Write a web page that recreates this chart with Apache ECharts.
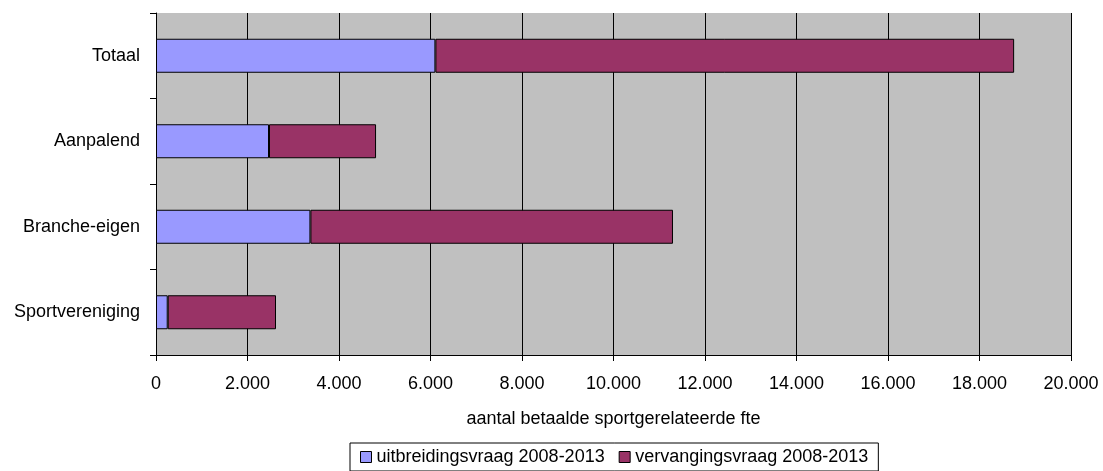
<!DOCTYPE html>
<html>
<head>
<meta charset="utf-8">
<script src="https://cdn.jsdelivr.net/npm/echarts@6/dist/echarts.min.js"></script>
<style>
html,body{margin:0;padding:0;background:#fff;}
#chart{width:1103px;height:471px;}
</style>
</head>
<body>
<div id="chart"></div>
<script>
const categories = ['Sportvereniging', 'Branche-eigen', 'Aanpalend', 'Totaal'];
const uitbreiding = [256, 3375, 2470, 6107];
const vervanging = [2367, 7925, 2340, 12650];
const seriesNames = ['uitbreidingsvraag 2008-2013', 'vervangingsvraag 2008-2013'];
const axisName = 'aantal betaalde sportgerelateerde fte';

function fmt(v) {
  return String(v).replace(/\B(?=(\d{3})+(?!\d))/g, '.');
}

const FONT = '"Liberation Sans", Arial, sans-serif';
const chart = echarts.init(document.getElementById('chart'), null, {renderer: 'canvas'});
chart.setOption({
  animation: false,
  backgroundColor: '#ffffff',
  textStyle: {fontFamily: FONT, color: '#000'},
  grid: {left: 156, right: 32, top: 13, bottom: 116, containLabel: false,
         show: true, backgroundColor: '#C0C0C0', borderWidth: 0},
  legend: {
    data: seriesNames,
    left: 350, top: 443,
    padding: [5, 10, 5, 10],
    borderColor: '#000', borderWidth: 1,
    itemWidth: 11, itemHeight: 11, itemGap: 14,
    icon: 'rect',
    itemStyle: {borderColor: '#000', borderWidth: 1},
    textStyle: {fontFamily: FONT, fontSize: 18, color: '#000'}
  },
  xAxis: {
    type: 'value', min: 0, max: 20000, interval: 2000,
    name: axisName, nameLocation: 'middle', nameGap: 55,
    nameTextStyle: {fontFamily: FONT, fontSize: 18, color: '#000'},
    axisLine: {show: true, lineStyle: {color: '#000', width: 1}},
    axisTick: {show: true, length: 6, lineStyle: {color: '#000'}},
    axisLabel: {formatter: v => fmt(v), fontFamily: FONT, fontSize: 18, color: '#000', margin: 20},
    splitLine: {show: true, lineStyle: {color: '#000', width: 1}}
  },
  yAxis: {
    type: 'category', data: categories,
    axisLine: {show: true, lineStyle: {color: '#000', width: 1}},
    axisTick: {show: true, length: 6, alignWithLabel: false, lineStyle: {color: '#000'}},
    axisLabel: {fontFamily: FONT, fontSize: 18, color: '#000', margin: 16},
    splitLine: {show: false}
  },
  series: [
    {name: seriesNames[0], type: 'bar', stack: 'a', data: uitbreiding, barWidth: 34,
     itemStyle: {color: '#9999FF', borderColor: '#000', borderWidth: 1}},
    {name: seriesNames[1], type: 'bar', stack: 'a', data: vervanging, barWidth: 34,
     itemStyle: {color: '#993366', borderColor: '#000', borderWidth: 1}}
  ]
});
</script>
</body>
</html>
